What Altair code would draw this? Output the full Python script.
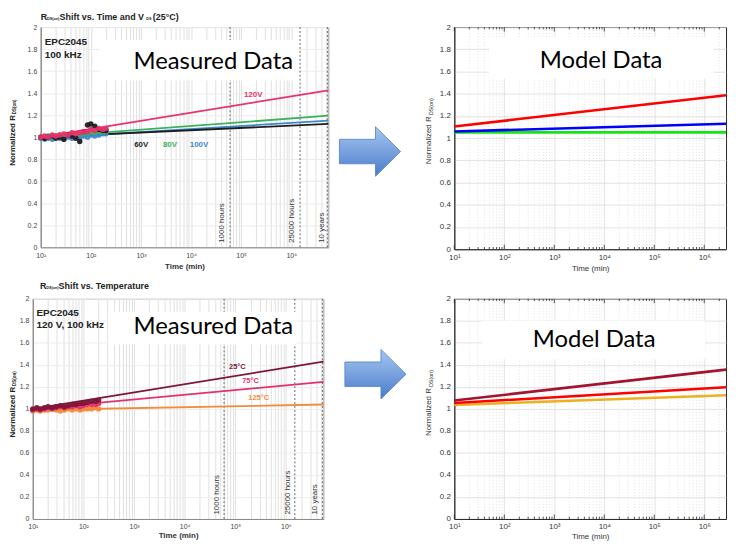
import altair as alt
import pandas as pd

# ----------------------------------------------------------------- data
decades = [10, 100, 1000, 10000, 100000, 1000000]
decade_labels = ["10¹", "10²", "10³", "10⁴", "10⁵", "10⁶"]
minor_steps = [2, 3, 4, 5, 6, 7, 8, 9]
y_ticks = [0, 0.2, 0.4, 0.6, 0.8, 1, 1.2, 1.4, 1.6, 1.8, 2]

meas_t = [10, 12, 14, 17, 20, 24, 29, 35, 42, 50, 60, 72, 86, 100, 120, 145, 175, 200]

vds_names = ["100V", "80V", "60V", "120V"]
vds_colors = ["#3f86cf", "#3bb35e", "#1e1e1e", "#e8336d"]
vds_points = {
    "100V": [0.99, 0.98, 0.99, 0.98, 1.00, 0.99, 0.98, 1.00, 0.99, 1.00, 0.99, 1.01, 1.00, 1.02, 1.01, 1.02, 1.03, 1.03],
    "80V": [1.00, 1.00, 1.01, 1.00, 1.01, 1.02, 1.01, 1.02, 1.03, 1.02, 1.03, 1.03, 1.04, 1.05, 1.04, 1.05, 1.05, 1.06],
    "60V": [1.00, 0.99, 1.00, 1.01, 0.99, 1.00, 0.98, 1.02, 1.01, 0.99, 0.96, 1.05, 1.11, 1.12, 1.10, 1.07, 1.06, 1.06],
    "120V": [1.00, 1.01, 1.00, 1.02, 1.01, 1.02, 1.03, 1.02, 1.04, 1.03, 1.04, 1.05, 1.05, 1.07, 1.06, 1.08, 1.07, 1.08],
}
fit_t = [10, 5500000]
vds_fit = {"100V": [0.99, 1.15], "80V": [1.0, 1.195], "60V": [1.0, 1.12], "120V": [1.0, 1.425]}
vds_label_t = [14400, 3800, 1015, 174000]
vds_label_v = [0.93, 0.93, 0.93, 1.385]

temp_names = ["125°C", "75°C", "25°C"]
temp_colors = ["#f08c3c", "#e5306b", "#7d1638"]
temp_points = {
    "125°C": [0.98, 0.99, 0.98, 0.99, 0.99, 1.00, 0.99, 0.98, 0.99, 1.00, 0.99, 1.00, 0.99, 1.00, 1.00, 1.00, 1.01, 1.00],
    "75°C": [0.99, 1.00, 0.99, 1.00, 1.01, 1.00, 1.01, 1.02, 1.01, 1.02, 1.02, 1.03, 1.02, 1.03, 1.04, 1.04, 1.04, 1.05],
    "25°C": [1.00, 1.01, 1.00, 1.01, 1.02, 1.01, 1.02, 1.03, 1.02, 1.03, 1.04, 1.04, 1.05, 1.05, 1.06, 1.07, 1.07, 1.08],
}
temp_fit = {"125°C": [0.99, 1.04], "75°C": [1.0, 1.245], "25°C": [1.0, 1.43]}
temp_label_t = [290000, 200000, 110000]
temp_label_v = [1.10, 1.256, 1.38]

milestone_t = [60000, 1500000, 5256000]
milestone_labels = ["1000 hours", "25000 hours", "10 years"]
milestone_label_t_top = [41700, 1040000, 4070000]
milestone_label_t_bot = [43600, 1100000, 3800000]

model_t = [10, 2730000]
model_top_names = ["80V", "100V", "120V"]
model_top_colors = ["#14e614", "#0000ff", "#ff0000"]
model_top = {"80V": [1.052, 1.052], "100V": [1.06, 1.13], "120V": [1.105, 1.386]}
model_bot_names = ["125°C", "75°C", "25°C"]
model_bot_colors = ["#edb120", "#ff0000", "#a2142f"]
model_bot = {"125°C": [1.036, 1.124], "75°C": [1.053, 1.197], "25°C": [1.076, 1.357]}

# ----------------------------------------------------------------- styling
SANS = "Liberation Sans, Arial, Helvetica, sans-serif"
HELV = "Liberation Sans, Arial, Helvetica, sans-serif"
CAL = "Lato, Carlito, Calibri, sans-serif"

dummy = pd.DataFrame({"a": [0]})


def label_expr():
    s = "''"
    for v, l in reversed(list(zip(decades, decade_labels))):
        s = f"datum.value == {v} ? '{l}' : {s}"
    return s


def minor_vals(xmax):
    return [m * d for d in decades for m in minor_steps if m * d <= xmax]


def txt(text, x, y, size, font, color="black", weight="normal", align="left", angle=0):
    kw = dict(text=text, font=font, fontSize=size, color=color, fontWeight=weight,
              align=align, baseline="middle")
    if angle:
        kw["angle"] = angle
    return alt.Chart(dummy).mark_text(**kw).encode(x=alt.value(x), y=alt.value(y))


def white_box(x1, x2, y1, y2):
    return alt.Chart(dummy).mark_rect(fill="white", opacity=1).encode(
        x=alt.value(x1), x2=alt.value(x2), y=alt.value(y1), y2=alt.value(y2))


def spacer(w, h, top, bottom):
    # invisible rectangle that fixes the vertical extent of a row
    return alt.Chart(dummy).mark_rect(opacity=0).encode(
        x=alt.value(0), x2=alt.value(1), y=alt.value(top), y2=alt.value(bottom)
    ).properties(width=w, height=h)


def long_df(names, t, series):
    rows = []
    for i, n in enumerate(names):
        for tt, vv in zip(t, series[n]):
            rows.append({"t": tt, "v": vv, "s": n, "o": i})
    return pd.DataFrame(rows)


# ----------------------------------------------------------------- measured panel
def measured_panel(w, h, xmax, names, colors, points, fits, lab_t, lab_v, lab_size, ms_lab_t,
                   title_parts, info, box, big, ytitle_x, title_pad):
    grid_vals = sorted(decades + minor_vals(xmax))
    x_enc = alt.X("t:Q", scale=alt.Scale(type="log", domain=[10, xmax], nice=False),
                  axis=alt.Axis(values=grid_vals, labelExpr=label_expr(), grid=True,
                                gridColor="#d2d2d2", gridWidth=0.7, ticks=False,
                                domainColor="#8a8a8a", domainWidth=1.2, labelFont=SANS,
                                labelFontSize=7, labelColor="#444", labelPadding=4,
                                labelFlush=False, labelOverlap=False,
                                title="Time (min)", titleFont=SANS, titleFontSize=8,
                                titleFontWeight="bold", titleColor="#333", titlePadding=title_pad))
    y_enc = alt.Y("v:Q", scale=alt.Scale(domain=[0, 2], nice=False, zero=False),
                  axis=alt.Axis(values=y_ticks, format="~g", grid=True, gridColor="#ececec",
                                ticks=False, domainColor="#8a8a8a", domainWidth=1.2,
                                labelFont=SANS, labelFontSize=7, labelColor="#444",
                                labelPadding=4, title=""))
    col = alt.Color("s:N", scale=alt.Scale(domain=names, range=colors), legend=None)

    ms = alt.Chart(pd.DataFrame({"t": milestone_t})).mark_rule(
        color="#555", strokeDash=[2, 2], strokeWidth=0.9).encode(x=x_enc)
    ms_text = alt.Chart(pd.DataFrame({"t": ms_lab_t, "v": [0.04] * 3, "lab": milestone_labels})).mark_text(
        angle=270, align="left", baseline="middle", font=SANS, fontSize=8, color="#333"
    ).encode(x=x_enc, y=y_enc, text="lab:N")
    lines = alt.Chart(long_df(names, fit_t, fits)).mark_line(strokeWidth=1.8).encode(
        x=x_enc, y=y_enc, color=col, detail="s:N", order="o:Q")
    pts = alt.Chart(long_df(names, meas_t, points)).mark_circle(size=30, opacity=0.95).encode(
        x=x_enc, y=y_enc, color=col)
    labs = alt.Chart(pd.DataFrame({"t": lab_t, "v": lab_v, "s": names})).mark_text(
        font=SANS, fontSize=lab_size, fontWeight="bold").encode(x=x_enc, y=y_enc, text="s:N", color=col)

    layers = [ms, lines, pts, ms_text, labs, white_box(*box)]
    layers.append(txt(big[0], big[1], big[2], 24, CAL, align="center"))
    for (t, x, y, s) in title_parts:
        layers.append(txt(t, x, y, s, SANS, color="#222", weight="bold"))
    for (t, x, y) in info:
        layers.append(txt(t, x, y, 10, SANS, color="#222", weight="bold"))
    layers.append(txt("Normalized R", ytitle_x, h * 0.4, 8, SANS, color="#222", weight="bold",
                      align="right", angle=270))
    layers.append(txt("DS(on)", ytitle_x + 2, h * 0.4 - 1, 4.5, SANS, color="#222", weight="bold",
                      align="left", angle=270))
    return alt.layer(*layers).properties(
        width=w, height=h, view=alt.ViewBackground(stroke="#9a9a9a", strokeWidth=1))


# ----------------------------------------------------------------- model panel
def model_panel(w, h, xmax, names, colors, series, box, big, title_pad):
    x_enc = alt.X("t:Q", scale=alt.Scale(type="log", domain=[10, xmax], nice=False),
                  axis=alt.Axis(values=decades, labelExpr=label_expr(), grid=True,
                                gridColor="#d6d6d6", gridWidth=0.7, ticks=False,
                                domainColor="#262626", domainWidth=1, labelFont=HELV,
                                labelFontSize=8, labelColor="#333", labelPadding=4,
                                labelFlush=False, labelOverlap=False,
                                title="Time (min)", titleFont=HELV, titleFontSize=8,
                                titleFontWeight="normal", titleColor="#333", titlePadding=title_pad))
    y_enc = alt.Y("v:Q", scale=alt.Scale(domain=[0, 2], nice=False, zero=False),
                  axis=alt.Axis(values=y_ticks, format="~g", grid=True, gridColor="#d6d6d6",
                                gridWidth=0.7, ticks=False, domainColor="#262626", domainWidth=1,
                                labelFont=HELV, labelFontSize=8, labelColor="#333",
                                labelPadding=4, title=""))
    col = alt.Color("s:N", scale=alt.Scale(domain=names, range=colors), legend=None)
    mv = minor_vals(xmax)
    minor_grid = alt.Chart(pd.DataFrame({"t": mv})).mark_rule(
        color="#d8d8d8", strokeDash=[1, 2], strokeWidth=0.7).encode(x=x_enc)
    tick_rows = []
    for t in mv:
        tick_rows += [{"t": t, "v": 0, "v2": 0.02}, {"t": t, "v": 1.98, "v2": 2}]
    for t in decades:
        tick_rows += [{"t": t, "v": 0, "v2": 0.04}, {"t": t, "v": 1.96, "v2": 2}]
    ticks = alt.Chart(pd.DataFrame(tick_rows)).mark_rule(color="#262626", strokeWidth=0.8).encode(
        x=x_enc, y=y_enc, y2="v2:Q")
    lines = alt.Chart(long_df(names, model_t, series)).mark_line(strokeWidth=2.6).encode(
        x=x_enc, y=y_enc, color=col, detail="s:N", order="o:Q")
    layers = [minor_grid, ticks, lines, white_box(*box),
              txt(big[0], big[1], big[2], 24, CAL, align="center"),
              txt("Normalized R", -25.5, 90, 8, HELV, color="#333", align="right", angle=270),
              txt("DS(on)", -23.5, 89, 5.5, HELV, color="#333", align="left", angle=270)]
    return alt.layer(*layers).properties(
        width=w, height=h, view=alt.ViewBackground(stroke="#262626", strokeWidth=1))


# ----------------------------------------------------------------- arrows
ARROW = "M-1,-0.4L0.18,-0.4L0.18,-0.81L1,0L0.18,0.81L0.18,0.4L-1,0.4Z"
arrow_fill = alt.Gradient(gradient="linear", x1=0, x2=0, y1=0, y2=1,
                          stops=[alt.GradientStop(color="#a6c6f0", offset=0),
                                 alt.GradientStop(color="#4a7ccb", offset=1)])


def arrow_cell(w, h, cx, cy):
    return alt.Chart(dummy).mark_point(shape=ARROW, size=3800, filled=True, fill=arrow_fill,
                                       stroke="#4f7fc4", strokeWidth=0.8, opacity=1).encode(
        x=alt.value(cx), y=alt.value(cy)).properties(width=w, height=h)


tl = measured_panel(
    290, 222, 5500000, vds_names, vds_colors, vds_points, vds_fit, vds_label_t, vds_label_v, 8,
    milestone_label_t_top,
    [("R", 0, -10, 9), ("DS(on)", 6.3, -8, 3.8), ("Shift vs. Time and V", 19, -10, 9),
     ("DS", 106.5, -8, 3.8), ("(25°C)", 113, -10, 9)],
    [("EPC2045", 4, 15), ("100 kHz", 4, 28)],
    (60, 259, 13, 54), ("Measured Data", 174, 35), -27.5, 4)

bl = measured_panel(
    293, 222, 5500000, temp_names, temp_colors, temp_points, temp_fit, temp_label_t, temp_label_v, 7.5,
    milestone_label_t_bot,
    [("R", 7.3, -13, 9), ("DS(on)", 13.6, -11, 3.8), ("Shift vs. Temperature", 26, -13, 9)],
    [("EPC2045", 3.7, 14), ("120 V, 100 kHz", 3.7, 26)],
    (76, 266, 13, 46), ("Measured Data", 182, 28), -19.5, 2)

tr = model_panel(274, 224, 2730000, model_top_names, model_top_colors, model_top,
                 (35, 261, 10, 52), ("Model Data", 148, 34), 3)
br = model_panel(274, 222, 2730000, model_bot_names, model_bot_colors, model_bot,
                 (28, 253, 22, 61), ("Model Data", 141, 42), 2)

row1 = alt.hconcat(spacer(32, 222, -16, 253), tl, arrow_cell(127, 222, 42, 125.5), tr,
                   spacing=0, bounds="flush").resolve_scale(color="independent", x="independent", y="independent")
row2 = alt.hconcat(spacer(24, 222, -19, 100), bl, arrow_cell(132, 222, 52.5, 76), br,
                   spacing=0, bounds="flush").resolve_scale(color="independent", x="independent", y="independent")

chart = alt.vconcat(row1, row2, spacing=0).resolve_scale(
    color="independent", x="independent", y="independent"
).properties(
    padding=0, background="white"
).configure_view(stroke="transparent")

chart.save("out.html", embed_options={"renderer": "svg", "actions": False})
